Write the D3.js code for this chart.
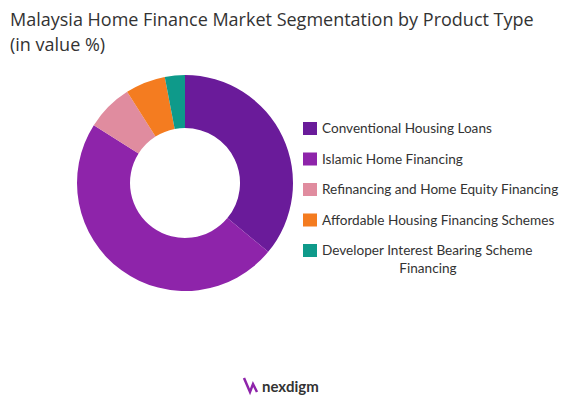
<!DOCTYPE html>
<html><head><meta charset="utf-8">
<script src="https://cdn.jsdelivr.net/npm/d3@7"></script>
<style>body{margin:0;background:#fff;font-family:Lato,"Open Sans",sans-serif}</style>
</head><body><svg id="chart" width="576" height="405"></svg>
<script>
const categories = ["Conventional Housing Loans","Islamic Home Financing","Refinancing and Home Equity Financing","Affordable Housing Financing Schemes","Developer Interest Bearing Scheme Financing"];
const values = [36, 48, 7, 6, 3];
const colors = ["#6a1b9a","#8e24aa","#e08c9f","#f47c20","#0e9a8a"];

const svg = d3.select("#chart");
const title = svg.append("g").attr("font-family","'Open Sans'").attr("font-size",18).attr("fill","#333");
title.append("text").attr("x",10).attr("y",26).text("Malaysia Home Finance Market Segmentation by Product Type");
title.append("text").attr("x",10).attr("y",51).text("(in value %)");

const pie = d3.pie().sort(null)(values);
const arc = d3.arc().innerRadius(55).outerRadius(108);
svg.append("g").attr("transform","translate(185,183)")
  .selectAll("path").data(pie).enter().append("path")
  .attr("d",arc).attr("fill",(d,i)=>colors[i]);

const leg = svg.append("g").attr("transform","translate(303,128)");
const rows = [["Conventional Housing Loans"],["Islamic Home Financing"],["Refinancing and Home Equity Financing"],["Affordable Housing Financing Schemes"],["Developer Interest Bearing Scheme","Financing"]];
rows.forEach((r,i)=>{
  const g = leg.append("g").attr("transform",`translate(0,${i*30.5})`);
  g.append("rect").attr("x",0).attr("y",-6).attr("width",14).attr("height",13).attr("fill",colors[i]);
  r.forEach((t,j)=>g.append("text").attr("x",j?125:19).attr("y",5+j*18).attr("font-size",13.6).attr("fill","#333").attr("text-anchor",j?"middle":"start").text(t));
});
// logo
const lg = svg.append("g").attr("transform","translate(244,386)");
lg.append("path").attr("d","M0,-8 L6,6 L9,-2 L13,6").attr("fill","none").attr("stroke","#8e24aa").attr("stroke-width",2.5);
svg.append("text").attr("x",262).attr("y",392).attr("font-size",15).attr("font-weight","bold").attr("fill","#333").text("nexdigm");
</script></body></html>
